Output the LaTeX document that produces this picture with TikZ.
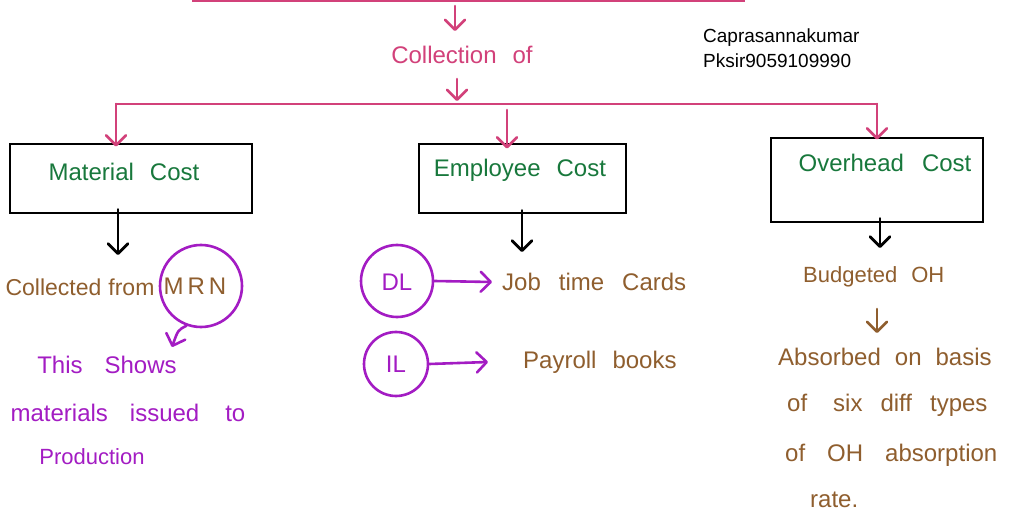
\documentclass[tikz,border=0pt]{standalone}
\usepackage{fontspec}
\setmainfont{Liberation Sans}
\usetikzlibrary{arrows.meta}
\definecolor{inkpink}{HTML}{D2417A}
\definecolor{inkgreen}{HTML}{18783C}
\definecolor{inkbrown}{HTML}{8F5E2E}
\definecolor{inkpurple}{HTML}{A31CC3}
\tikzset{
  barbtip/.style={-{Straight Barb[length=10pt,width=20pt,round]}},
  pinkline/.style={draw=inkpink,line width=2.6pt},
  pinkarrow/.style={draw=inkpink,line width=2.6pt,line cap=round,barbtip},
  blackarrow/.style={draw=black,line width=2.8pt,line cap=round,barbtip},
  purplearrow/.style={draw=inkpurple,line width=2.6pt,line cap=round,barbtip},
  brownarrow/.style={draw=inkbrown,line width=2.6pt,line cap=round,barbtip},
  costbox/.style={draw=black,line width=2.8pt,rectangle,inner sep=0pt},
  ring/.style={draw=inkpurple,line width=2.6pt,circle,inner sep=0pt},
  hand/.style={font=\fontsize{24}{28}\selectfont,inner sep=0pt},
  handpink/.style={hand,text=inkpink},
  handgreen/.style={hand,text=inkgreen},
  handbrown/.style={hand,text=inkbrown},
  handpurple/.style={hand,text=inkpurple},
  author/.style={text=black,font=\fontsize{19}{22}\selectfont,inner sep=0pt,anchor=west}
}
\begin{document}
\begin{tikzpicture}[x=1pt,y=-1pt]
\useasboundingbox (0,0) rectangle (1026,513);
\fill[white] (0,0) rectangle (1026,513);

% header line and "Collection of"
\coordinate (topL) at (192,1);
\coordinate (topR) at (745,1);
\draw[pinkline] (topL) -- (topR);
\coordinate (a1s) at (455,6);
\coordinate (a1e) at (455,31);
\draw[pinkarrow] (a1s) -- (a1e);
\node[handpink] (coll) at (462,55) {Collection\hspace{16pt}of};
\coordinate (a2s) at (457,79);
\coordinate (a2e) at (457,101);
\draw[pinkarrow] (a2s) -- (a2e);

% author
\node[author] (auth1) at (703,38) {Caprasannakumar};
\node[author] (auth2) at (703,61) {Pksir9059109990};

% distribution line
\coordinate (busL) at (115,104);
\coordinate (busR) at (878,104);
\draw[pinkline] (busL) -- (busR);

% cost boxes
\node[costbox,minimum width=242pt,minimum height=69pt] (mc) at (131,178.5) {};
\node[costbox,minimum width=207pt,minimum height=69pt] (ec) at (522.5,178.5) {};
\node[costbox,minimum width=212pt,minimum height=84pt] (oc) at (877,180) {};
\node[handgreen] (mct) at (124,172) {Material\hspace{16pt}Cost};
\node[handgreen] (ect) at (520,170) {Employee\hspace{16pt}Cost};
\node[handgreen] (oct) at (885,163) {Overhead\hspace{18pt}Cost};

% arrows into the boxes
\coordinate (b1) at (116,104);
\coordinate (b2) at (507,110);
\coordinate (b3) at (877,104);
\draw[pinkarrow] (b1) -- ([yshift=-4pt]b1 |- mc.north);
\draw[pinkarrow] (b2) -- ([yshift=-6pt]b2 |- ec.north);
\draw[pinkarrow] (b3) -- ([yshift=-3pt]b3 |- oc.north);

% arrows out of the boxes
\coordinate (m1) at (118,255);
\coordinate (e1) at (522,252);
\coordinate (o1) at (880,248);
\draw[blackarrow] ([yshift=5pt]m1 |- mc.south) -- (m1);
\draw[blackarrow] ([yshift=4pt]e1 |- ec.south) -- (e1);
\draw[blackarrow] ([yshift=5pt]o1 |- oc.south) -- (o1);

% material cost branch
\node[handbrown,font=\fontsize{23}{27}\selectfont] (colf) at (80,287) {Collected\hspace{7pt}from};
\node[ring,minimum size=82pt] (mrn) at (201,286) {};
\node[handbrown] (mrnt) at (195,286) {M\,R\,N};
\coordinate (mrnA) at (172,347);
\draw[purplearrow] (mrn.250) .. controls (178,330) .. (mrnA);
\node[handpurple] (sh1) at (107,365) {This\hspace{22pt}Shows};
\node[handpurple] (sh2) at (128,413) {materials\hspace{22pt}issued\hspace{26pt}to};
\node[handpurple,font=\fontsize{22}{26}\selectfont] (sh3) at (92,457) {Production};

% employee cost branch
\node[ring,minimum size=72pt] (dl) at (397,281) {};
\node[handpurple] (dlt) at (397,282) {DL};
\node[handbrown,anchor=west] (job) at (502,282) {Job\hspace{18pt}time\hspace{18pt}Cards};
\draw[purplearrow] (dl.east) -- ([xshift=-10pt]job.west);
\node[ring,minimum size=64pt] (il) at (396,364) {};
\node[handpurple] (ilt) at (396,364) {IL};
\node[handbrown,anchor=west] (pay) at (523,362) {Payroll\hspace{16pt}books};
\draw[purplearrow] (il.east) -- ([xshift=-35pt]pay.west);

% overhead cost branch
\node[handbrown,anchor=west,font=\fontsize{22}{26}\selectfont] (boh) at (803,277) {Budgeted\hspace{14pt}OH};
\coordinate (ohA) at (877,309);
\coordinate (ohB) at (877,333);
\draw[brownarrow] (ohA) -- (ohB);
\node[handbrown,anchor=west] (ab1) at (778,357) {Absorbed\hspace{14pt}on\hspace{14pt}basis};
\node[handbrown,anchor=west] (ab2) at (787,405) {of\hspace{26pt}six\hspace{18pt}diff\hspace{18pt}types};
\node[handbrown,anchor=west] (ab3) at (785,455) {of\hspace{22pt}OH\hspace{22pt}absorption};
\node[handbrown,anchor=west] (ab4) at (810,500) {rate.};
\end{tikzpicture}
\end{document}
